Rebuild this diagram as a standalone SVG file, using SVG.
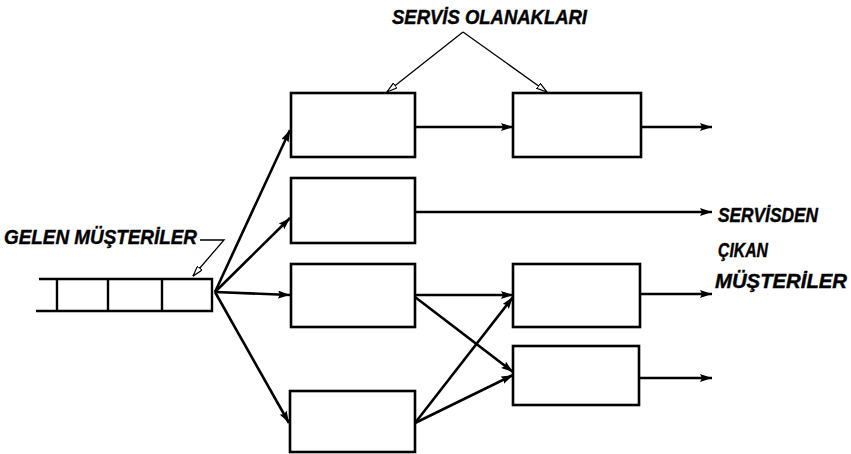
<svg xmlns="http://www.w3.org/2000/svg" width="851" height="454" viewBox="0 0 851 454">
<style>
.box{fill:none;stroke:#000;stroke-width:2.6}
.c{fill:none;stroke:#000;stroke-width:2.6;marker-end:url(#ah)}
.p{fill:none;stroke:#000;stroke-width:1.3;marker-end:url(#ah2)}
.t{font-family:"Liberation Sans",Arial,sans-serif;font-weight:bold;font-style:italic;font-size:20px;fill:#000;stroke:#000;stroke-width:0.4}
</style>
<defs>
<marker id="ah" viewBox="0 0 12 8" refX="12" refY="4" markerWidth="12" markerHeight="8" markerUnits="userSpaceOnUse" orient="auto">
<path d="M0,0 L12,4 L0,8 L2,4 Z" fill="#000"/>
</marker>
<marker id="ah2" viewBox="0 0 12 8" refX="12" refY="4" markerWidth="11" markerHeight="7" markerUnits="userSpaceOnUse" orient="auto">
<path d="M0,0.5 L12,4 L0,7.5 Z" fill="#fff" stroke="#000" stroke-width="1.4"/>
</marker>
</defs>
<rect width="851" height="454" fill="#fff"/>
<g id="queue">
<path d="M39,279 H212 V311 H36 M57,279 V311 M108,279 V311 M162,279 V311" fill="none" stroke="#000" stroke-width="2.4"/>
</g>
<g id="boxA"><rect class="box" x="291" y="93" width="124" height="64"/></g>
<g id="boxB"><rect class="box" x="291" y="178" width="124" height="65"/></g>
<g id="boxC"><rect class="box" x="291" y="264" width="124" height="63"/></g>
<g id="boxD"><rect class="box" x="290" y="391" width="125" height="61"/></g>
<g id="boxE"><rect class="box" x="513" y="93" width="128" height="64"/></g>
<g id="boxF"><rect class="box" x="513" y="264" width="127" height="63"/></g>
<g id="boxG"><rect class="box" x="513" y="346" width="126" height="59"/></g>
<g id="connectors">
<line class="c" x1="215" y1="292" x2="290" y2="130"/>
<line class="c" x1="215" y1="292" x2="290" y2="218"/>
<line class="c" x1="215" y1="292" x2="290" y2="295"/>
<line class="c" x1="215" y1="292" x2="289" y2="423"/>
<line class="c" x1="415" y1="127" x2="513" y2="127"/>
<line class="c" x1="641" y1="127" x2="712" y2="127"/>
<line class="c" x1="415" y1="212" x2="712" y2="212"/>
<line class="c" x1="415" y1="295" x2="513" y2="295"/>
<line class="c" x1="415" y1="297" x2="513" y2="372"/>
<line class="c" x1="415" y1="423" x2="513" y2="297"/>
<line class="c" x1="415" y1="423" x2="513" y2="375"/>
<line class="c" x1="640" y1="294" x2="712" y2="294"/>
<line class="c" x1="639" y1="378" x2="712" y2="378"/>
<polyline class="p" points="463,32 387,92"/>
<polyline class="p" points="463,32 547,92"/>
<polyline class="p" points="200,240 224,240 193,276"/>
</g>
<g id="labels">
<text class="t" x="392" y="24" textLength="195" lengthAdjust="spacingAndGlyphs">SERVİS  OLANAKLARI</text>
<text class="t" x="4" y="244" textLength="193" lengthAdjust="spacingAndGlyphs">GELEN MÜŞTERİLER</text>
<text class="t" x="718" y="222" textLength="100" lengthAdjust="spacingAndGlyphs">SERVİSDEN</text>
<text class="t" x="718" y="257" textLength="50" lengthAdjust="spacingAndGlyphs">ÇIKAN</text>
<text class="t" x="715" y="288" textLength="132" lengthAdjust="spacingAndGlyphs">MÜŞTERİLER</text>
</g>
</svg>
